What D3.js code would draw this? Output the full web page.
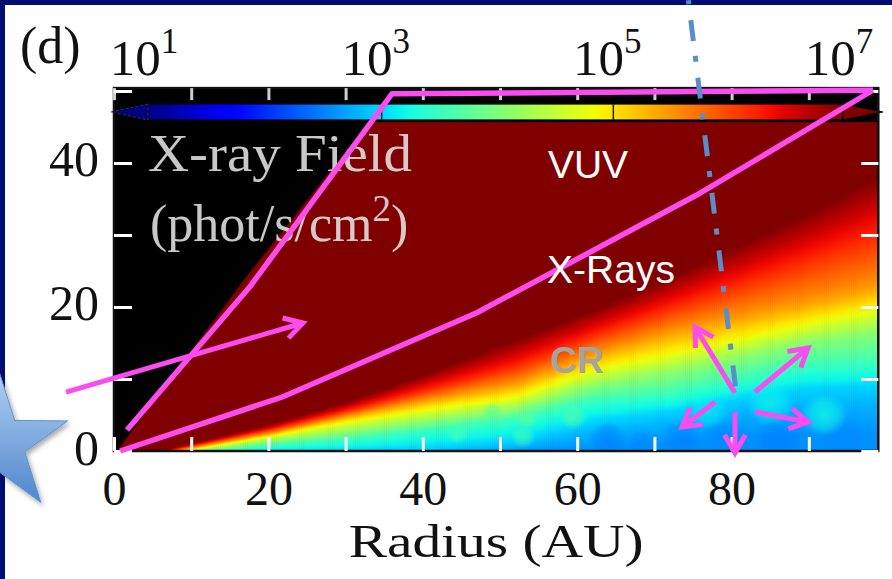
<!DOCTYPE html>
<html>
<head>
<meta charset="utf-8">
<script src="https://cdn.jsdelivr.net/npm/d3@7"></script>
<style>
  html, body { margin: 0; padding: 0; background: #000f6f; }
  svg { display: block; }
</style>
</head>
<body>
<svg id="chart" width="892" height="579"></svg>
<script>
// ---------------------------------------------------------------
// X-ray field in the disk: isolevel heights of log10(flux) per radius
// ---------------------------------------------------------------
const radii = [0, 7, 20, 30, 40, 52, 62, 72, 82, 90, 99];           // AU
const fluxLevels = [7.0, 6.2, 5.5, 4.85, 4.1, 3.5, 2.9, 2.6];        // log10 phot/s/cm^2
const levelHeights = [                                               // z (AU) of each level
  [ 0.0,  0.25,  3.6,  6.7, 10.5, 15.4, 19.5, 24.0, 29.0, 33.0, 38.0],
  [-0.2,  0.0,   2.9,  5.5,  8.3, 11.7, 16.0, 19.8, 23.5, 26.5, 30.0],
  [-0.4, -0.2,   2.4,  4.8,  7.0,  9.4, 13.5, 16.6, 19.0, 20.8, 23.0],
  [-0.6, -0.4,   2.0,  4.0,  5.7,  7.5, 11.3, 13.5, 15.8, 17.8, 19.8],
  [-0.8, -0.6,   1.3,  2.6,  4.0,  5.7,  9.0, 10.8, 13.2, 15.2, 16.5],
  [-1.0, -0.8,   0.7,  1.5,  2.8,  4.3,  7.0,  7.8, 10.0, 11.8, 12.0],
  [-1.2, -1.0,  -0.5, -0.3, -0.1,  0.8,  3.5,  5.0,  7.0,  8.0,  8.5],
  [-1.4, -1.2,  -0.9, -0.7, -0.6, -0.3,  0.3,  1.0,  2.0,  2.2,  2.3]
];
// Monte-Carlo noise patches in the shielded layer: centre (AU), size (AU), log10 flux
const blobR    = [49.0, 53.5, 59.5, 53.0, 44.5, 64.0, 68.5, 73.5, 79.0, 86.0, 94.5, 85.0, 92.0, 77.0];
const blobZ    = [ 5.3,  4.6,  4.7,  2.0,  2.5,  1.5,  1.2,  1.8,  1.6,  1.4,  2.0,  6.5,  5.0,  5.5];
const blobSize = [ 1.4,  1.5,  1.8,  1.6,  1.5,  2.6,  2.0,  2.6,  3.0,  3.2,  3.0,  3.0,  3.0,  2.5];
const blobLog  = [3.75, 3.75, 3.65, 3.55, 3.60, 2.50, 2.55, 2.50, 2.55, 2.50, 2.55, 3.20, 3.25, 3.15];

// edge of the unirradiated (masked) region
const maskR = [0.4, 17, 33, 36.5];
const maskZ = [0, 24, 45.6, 50.4];

// axes
const xTicks = [0, 10, 20, 30, 40, 50, 60, 70, 80, 90];
const xTickLabels = [0, 20, 40, 60, 80];
const yTicks = [0, 10, 20, 30, 40, 50];
const yTickLabels = [0, 20, 40];
const cbTicks = [1e1, 1e3, 1e5, 1e7];
const cbTickExp = ["1", "3", "5", "7"];
const cbDividers = [1e3, 1e5];

// overlay: irradiation boundaries, arrows, CR source line
const vuvR = [1.68, 17.6, 36.0, 98.3];
const vuvZ = [2.92, 22.8, 49.6, 50.1];
const xrayR = [0.8, 21.8, 47.0, 75.9, 98.3];
const xrayZ = [0.0, 7.5, 19.2, 35.8, 50.1];
const arrowFrom = [[-6.22, 8.19], [80.44, 8.06], [83.03, 8.19], [77.85, 6.81], [80.44, 5.42], [83.03, 5.42]];
const arrowTo   = [[24.48, 17.78], [75.26, 17.22], [89.90, 14.31], [73.58, 3.33], [80.44, -0.28], [89.90, 4.03]];
const crLineR = [74.4, 80.6];
const crLineZ = [62.6, 8.05];
const starCenter = [-15.0, 1.1];
const regionLabels = [
  {text: "VUV",    R: 56.2, z: 37.9, fill: "#ffffff", weight: 400, size: 39},
  {text: "X-Rays", R: 56.1, z: 23.3, fill: "#ffffff", weight: 400, size: 39},
  {text: "CR",     R: 56.5, z: 10.8, fill: "#a3a3a3", weight: 700, size: 37}
];

// ---------------------------------------------------------------
const W = 892, H = 579;
const svg = d3.select("#chart");
const defs = svg.append("defs");

const x = d3.scaleLinear().domain([0, 99]).range([114, 878.3]);
const y = d3.scaleLinear().domain([0, 50.4]).range([451, 88.1]);
const cb = d3.scaleLog().domain([1e1, 1e7]).range([148, 843]);

// jet colormap
const jetR = d3.scaleLinear().domain([0, 0.35, 0.66, 0.89, 1]).range([0, 0, 1, 1, 0.5]).clamp(true);
const jetG = d3.scaleLinear().domain([0, 0.125, 0.375, 0.64, 0.91, 1]).range([0, 0, 1, 1, 0, 0]).clamp(true);
const jetB = d3.scaleLinear().domain([0, 0.11, 0.34, 0.65, 1]).range([0.5, 1, 1, 0, 0]).clamp(true);
const jet = t => d3.rgb(jetR(t) * 255, jetG(t) * 255, jetB(t) * 255).formatHex();
const fluxToUnit = d3.scaleLinear().domain([1, 7]).range([0, 1]).clamp(true);

// slide background and figure panel
svg.append("rect").attr("width", W).attr("height", H).attr("fill", "#000f6f");
svg.append("rect").attr("x", 5).attr("y", 5).attr("width", W - 5).attr("height", H - 5).attr("fill", "#ffffff");

const [x0, x1] = x.range();
const [yb, yt] = y.range();

defs.append("clipPath").attr("id", "plotClip")
  .append("rect").attr("x", x0).attr("y", yt).attr("width", x1 - x0).attr("height", yb - yt);

const plot = svg.append("g").attr("clip-path", "url(#plotClip)");

// saturated field (> 1e7)
plot.append("rect").attr("x", x0).attr("y", yt).attr("width", x1 - x0).attr("height", yb - yt)
  .attr("fill", jet(1));

// attenuated layer near the midplane, one column per radial step
const levelScales = levelHeights.map(row => d3.scaleLinear().domain(radii).range(row));
const step = 0.25;
const cols = [];
for (let R = 0; R < 99; R += step) {
  const Rm = R + step / 2;
  const h = levelScales.map(s => s(Rm));
  const top = h[0];
  if (top <= 0) continue;
  const logAt = d3.scaleLinear().domain(h).range(fluxLevels).clamp(true);
  const zAt = d3.scaleLinear().domain(fluxLevels).range(h);
  const zs = [0, top];
  for (let L = 7; L >= 2.5; L -= 0.2) {
    const z = zAt(L);
    if (z > 0 && z < top) zs.push(z);
  }
  zs.sort((a, b) => b - a);               // top of the column first
  cols.push({R, top, stops: zs.map(z => ({z, c: jet(fluxToUnit(logAt(z)))}))});
}
cols.forEach((c, i) => {
  const g = defs.append("linearGradient").attr("id", "col" + i)
    .attr("gradientUnits", "userSpaceOnUse")
    .attr("x1", 0).attr("x2", 0).attr("y1", y(c.top)).attr("y2", y(0));
  const span = y(0) - y(c.top);
  c.stops.forEach(s => g.append("stop")
    .attr("offset", (y(s.z) - y(c.top)) / span)
    .attr("stop-color", s.c));
});
plot.append("g").selectAll("rect").data(cols).join("rect")
  .attr("x", d => x(d.R))
  .attr("width", d => x(d.R + step) - x(d.R) + 0.6)
  .attr("y", d => y(d.top))
  .attr("height", d => y(0) - y(d.top))
  .attr("fill", (d, i) => `url(#col${i})`);

// noise patches
const blobs = blobR.map((r, i) => ({R: r, z: blobZ[i], s: blobSize[i], c: jet(fluxToUnit(blobLog[i]))}));
blobs.forEach((b, i) => {
  const g = defs.append("radialGradient").attr("id", "blob" + i);
  g.append("stop").attr("offset", 0).attr("stop-color", b.c).attr("stop-opacity", 0.75);
  g.append("stop").attr("offset", 0.6).attr("stop-color", b.c).attr("stop-opacity", 0.45);
  g.append("stop").attr("offset", 1).attr("stop-color", b.c).attr("stop-opacity", 0);
});
plot.append("g").selectAll("ellipse").data(blobs).join("ellipse")
  .attr("cx", d => x(d.R)).attr("cy", d => y(d.z))
  .attr("rx", d => x(d.s) - x(0)).attr("ry", d => y(0) - y(d.s))
  .attr("fill", (d, i) => `url(#blob${i})`);

// masked region
const maskPts = [[0, 0]].concat(maskR.map((r, i) => [r, maskZ[i]]), [[0, 50.4]]);
plot.append("path")
  .attr("d", d3.line().x(d => x(d[0])).y(d => y(d[1]))(maskPts) + "Z")
  .attr("fill", "#000000");

// colorbar strip
plot.append("rect").attr("x", x0).attr("y", yt).attr("width", x1 - x0).attr("height", 34).attr("fill", "#000000");
const cbGrad = defs.append("linearGradient").attr("id", "cbGrad");
d3.range(0, 1.0001, 0.02).forEach(t => cbGrad.append("stop").attr("offset", t).attr("stop-color", jet(t)));
const cbY = 104, cbH = 16;
svg.append("rect").attr("x", cb(1e1)).attr("y", cbY).attr("width", cb(1e7) - cb(1e1)).attr("height", cbH)
  .attr("fill", "url(#cbGrad)").attr("stroke", "#000").attr("stroke-width", 1.2);
svg.append("path")
  .attr("d", `M${cb(1e1)},${cbY} L${cb(1e1) - 37},${cbY + cbH / 2} L${cb(1e1)},${cbY + cbH} Z`)
  .attr("fill", jet(0)).attr("stroke", "#333").attr("stroke-width", 1).attr("stroke-dasharray", "3,2");
svg.append("path")
  .attr("d", `M${cb(1e7)},${cbY} L${cb(1e7) + 40},${cbY + cbH / 2} L${cb(1e7)},${cbY + cbH} Z`)
  .attr("fill", jet(1)).attr("stroke", "#000").attr("stroke-width", 1.2);
svg.append("g").selectAll("line").data(cbDividers).join("line")
  .attr("x1", d => cb(d) + 2).attr("x2", d => cb(d) + 2)
  .attr("y1", cbY).attr("y2", cbY + cbH)
  .attr("stroke", "#222").attr("stroke-width", 1.5);

// colorbar labels
const cbLab = svg.append("g").attr("font-family", "Liberation Serif, serif").attr("fill", "#111");
cbTicks.forEach((v, i) => {
  const t = cbLab.append("text").attr("x", cb(v) - 4).attr("y", 75)
    .attr("text-anchor", "middle").attr("font-size", 51);
  t.append("tspan").text("10");
  t.append("tspan").attr("dy", -22).attr("font-size", 35).text(cbTickExp[i]);
});

// frame
svg.append("rect").attr("x", x0).attr("y", yt).attr("width", x1 - x0).attr("height", yb - yt)
  .attr("fill", "none").attr("stroke", "#111").attr("stroke-width", 2.5);

// axes
const styleTicks = (g, col) => {
  g.select(".domain").remove();
  g.selectAll(".tick line").attr("stroke", col).attr("stroke-width", 3);
  g.selectAll(".tick text").attr("fill", "#111").attr("font-family", "Liberation Serif, serif").attr("font-size", 48);
};
svg.append("g").attr("transform", `translate(0,${yb})`)
  .call(d3.axisBottom(x).tickValues(xTicks).tickSize(-14).tickPadding(20)
    .tickFormat(d => xTickLabels.includes(d) ? d : ""))
  .call(g => styleTicks(g, "#ffffff"));
svg.append("g").attr("transform", `translate(0,${yt})`)
  .call(d3.axisTop(x).tickValues(xTicks).tickSize(-12).tickFormat(""))
  .call(g => styleTicks(g, "#cfcfcf"));
svg.append("g").attr("transform", `translate(${x0},0)`)
  .call(d3.axisLeft(y).tickValues(yTicks).tickSize(-18).tickPadding(15)
    .tickFormat(d => yTickLabels.includes(d) ? d : ""))
  .call(g => styleTicks(g, "#ffffff"))
  .call(g => g.selectAll(".tick text").attr("font-size", 50).attr("dy", 13));
svg.append("g").attr("transform", `translate(${x1},0)`)
  .call(d3.axisRight(y).tickValues(yTicks).tickSize(-17).tickFormat(""))
  .call(g => styleTicks(g, "#ffffff"));

// panel letter and axis title
svg.append("text").attr("x", 20).attr("y", 63).attr("font-family", "Liberation Serif, serif")
  .attr("font-size", 52).attr("fill", "#111").text("(d)");
svg.append("text").attr("x", (x0 + x1) / 2).attr("y", 557).attr("text-anchor", "middle")
  .attr("font-family", "Liberation Serif, serif").attr("font-size", 47).attr("fill", "#111")
  .attr("textLength", 295).attr("lengthAdjust", "spacingAndGlyphs").text("Radius (AU)");

// colorbar title inside the plot
const cbTitle = svg.append("g").attr("font-family", "Liberation Serif, serif").attr("font-size", 52)
  .attr("fill", "#e4e4e4").attr("fill-opacity", 0.88);
cbTitle.append("text").attr("x", 148).attr("y", 171)
  .attr("textLength", 264).attr("lengthAdjust", "spacingAndGlyphs").text("X-ray Field");
const t2 = cbTitle.append("text").attr("x", 150).attr("y", 241);
t2.append("tspan").text("(phot/s/cm");
t2.append("tspan").attr("dy", -20).attr("font-size", 37).text("2");
t2.append("tspan").attr("dy", 20).text(")");

// overlay boundaries
const MAG = "#fb4cf0";
const line = d3.line().x(d => x(d[0])).y(d => y(d[1]));
svg.append("path").attr("d", line(vuvR.map((r, i) => [r, vuvZ[i]])))
  .attr("fill", "none").attr("stroke", MAG).attr("stroke-width", 5.5).attr("stroke-linejoin", "round");
svg.append("path").attr("d", line(xrayR.map((r, i) => [r, xrayZ[i]])))
  .attr("fill", "none").attr("stroke", MAG).attr("stroke-width", 5.5).attr("stroke-linejoin", "round");

// arrows
const arrows = svg.append("g").attr("stroke", MAG).attr("stroke-width", 5).attr("fill", "none")
  .attr("stroke-linejoin", "miter");
arrowFrom.forEach((f, i) => {
  const p0 = [x(f[0]), y(f[1])], p1 = [x(arrowTo[i][0]), y(arrowTo[i][1])];
  const ang = Math.atan2(p1[1] - p0[1], p1[0] - p0[0]);
  const L = 21, a = Math.PI / 6;
  const h1 = [p1[0] - L * Math.cos(ang - a), p1[1] - L * Math.sin(ang - a)];
  const h2 = [p1[0] - L * Math.cos(ang + a), p1[1] - L * Math.sin(ang + a)];
  arrows.append("line").attr("x1", p0[0]).attr("y1", p0[1]).attr("x2", p1[0]).attr("y2", p1[1]);
  arrows.append("polyline").attr("points", [h1, p1, h2].map(p => p.join(",")).join(" "));
});

// region labels
svg.append("g").selectAll("text").data(regionLabels).join("text")
  .attr("x", d => x(d.R)).attr("y", d => y(d.z))
  .attr("font-family", "Liberation Sans, Arial, sans-serif")
  .attr("font-size", d => d.size).attr("font-weight", d => d.weight)
  .attr("fill", d => d.fill).text(d => d.text);

// cosmic-ray source line (dash-dot)
svg.append("path").attr("d", line(crLineR.map((r, i) => [r, crLineZ[i]])))
  .attr("fill", "none").attr("stroke", "#5b8dc9").attr("stroke-width", 5)
  .attr("stroke-dasharray", "21,15,6,16").attr("stroke-dashoffset", 38);

// star
const sg = defs.append("linearGradient").attr("id", "starGrad").attr("x1", 0).attr("x2", 0).attr("y1", 0).attr("y2", 1);
sg.append("stop").attr("offset", 0).attr("stop-color", "#b3d1f2");
sg.append("stop").attr("offset", 1).attr("stop-color", "#4f86cc");
const sf = defs.append("filter").attr("id", "starShadow").attr("x", -0.3).attr("y", -0.3).attr("width", 1.6).attr("height", 1.6);
sf.append("feDropShadow").attr("dx", 2).attr("dy", 3).attr("stdDeviation", 2.5)
  .attr("flood-color", "#000").attr("flood-opacity", 0.35);
const sc = [x(starCenter[0]), y(starCenter[1])];
const Ro = 73, Ri = 28, a0 = -17.7 * Math.PI / 180;
const starPts = d3.range(10).map(k => {
  const r = k % 2 ? Ri : Ro, a = a0 + k * Math.PI / 5;
  return [sc[0] + r * Math.cos(a), sc[1] + r * Math.sin(a)];
});
svg.append("path").attr("d", "M" + starPts.map(p => p.join(",")).join("L") + "Z")
  .attr("fill", "url(#starGrad)").attr("stroke", "#5f92d4").attr("stroke-width", 1)
  .attr("filter", "url(#starShadow)");
</script>
</body>
</html>
